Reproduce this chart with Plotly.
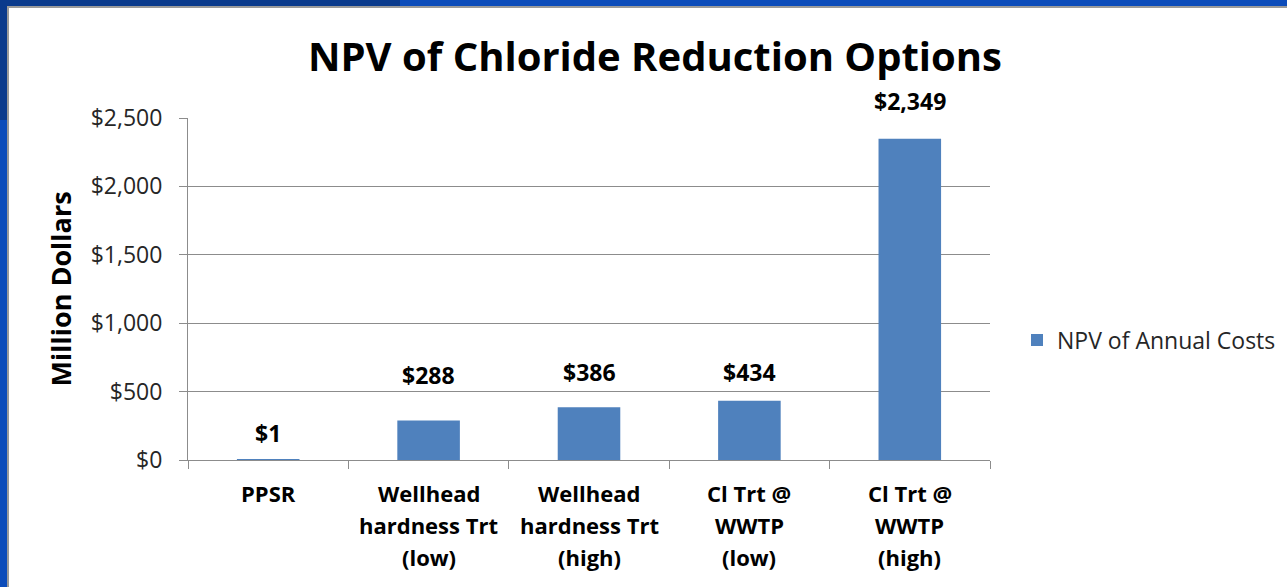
import plotly.graph_objects as go

# ── data ───────────────────────────────────────────────────────────
CATEGORIES = ["PPSR", "Wellhead hardness Trt (low)", "Wellhead hardness Trt (high)",
              "Cl Trt @ WWTP (low)", "Cl Trt @ WWTP (high)"]
CAT_LINES = [["PPSR"],
             ["Wellhead", "hardness Trt", "(low)"],
             ["Wellhead", "hardness Trt", "(high)"],
             ["Cl Trt @", "WWTP", "(low)"],
             ["Cl Trt @", "WWTP", "(high)"]]
NPV_COSTS = [1, 288, 386, 434, 2349]
VALUE_LABELS = ["$1", "$288", "$386", "$434", "$2,349"]
SERIES_NAME = "NPV of Annual Costs"

# styles
FONT = "'Open Sans', Lato, sans-serif"
BAR_COLOR = "#4f81bd"
GRID = "#8c8c8c"
LABEL_SHIFT = [27, 46, 35, 29, 38]   # Excel labels sit a bit above the bars

fig = go.Figure()
fig.add_trace(go.Bar(
    x=CATEGORIES, y=NPV_COSTS, name=SERIES_NAME,
    marker=dict(color=BAR_COLOR, line=dict(width=0)),
    showlegend=True,
))

annotations = []
for cat, v, lab, sh in zip(CATEGORIES, NPV_COSTS, VALUE_LABELS, LABEL_SHIFT):
    annotations.append(dict(
        x=cat, y=v, xref="x", yref="y", text=f"<b>{lab}</b>",
        showarrow=False, yshift=sh, font=dict(size=23, color="#000000", family=FONT),
    ))

# category labels, one line at a time for Excel-like line spacing
for cat, lines in zip(CATEGORIES, CAT_LINES):
    for i, ln in enumerate(lines):
        annotations.append(dict(
            x=cat, y=0, xref="x", yref="paper", text=f"<b>{ln}</b>",
            showarrow=False, yanchor="middle", yshift=-(33 + 32 * i),
            font=dict(size=22, color="#000000", family=FONT),
        ))

# y-axis title
annotations.append(dict(
    x=-0.159, y=0.5, xref="paper", yref="paper", text="<b>Million Dollars</b>",
    xanchor="center", yanchor="middle",
    textangle=-90, showarrow=False, font=dict(size=27, color="#000000", family=FONT),
))

# window frame (blue strip + grey edge, top and left)
L, T = 188, 118
W, H = 802, 342
def px(xp): return (xp - L) / W
def py(yp): return (T + H - yp) / H

shapes = [
    dict(type="rect", xref="paper", yref="paper", x0=px(0), x1=px(1287), y0=py(6), y1=py(0),
         fillcolor="#0c4cba", line=dict(width=0), layer="below"),
    dict(type="rect", xref="paper", yref="paper", x0=px(0), x1=px(400), y0=py(6), y1=py(0),
         fillcolor="#0a3a8c", line=dict(width=0), layer="below"),
    dict(type="rect", xref="paper", yref="paper", x0=px(0), x1=px(7), y0=py(587), y1=py(0),
         fillcolor="#0c4cba", line=dict(width=0), layer="below"),
    dict(type="rect", xref="paper", yref="paper", x0=px(0), x1=px(7), y0=py(120), y1=py(0),
         fillcolor="#0a3a8c", line=dict(width=0), layer="below"),
    dict(type="rect", xref="paper", yref="paper", x0=px(7), x1=px(1287), y0=py(8), y1=py(6),
         fillcolor="#9a9a9a", line=dict(width=0), layer="below"),
    dict(type="rect", xref="paper", yref="paper", x0=px(7), x1=px(9), y0=py(587), y1=py(6),
         fillcolor="#9a9a9a", line=dict(width=0), layer="below"),
]

fig.update_layout(
    width=1287, height=587,
    margin=dict(l=L, r=1287 - L - W, t=T, b=587 - T - H),
    paper_bgcolor="#ffffff", plot_bgcolor="#ffffff",
    font=dict(family=FONT, color="#262626"),
    title=dict(text="<b>NPV of Chloride Reduction Options</b>", x=655 / 1287, xanchor="center",
               y=1 - 57 / 587, yanchor="middle", font=dict(size=40, color="#000000", family=FONT)),
    bargap=0.61,
    showlegend=True,
    legend=dict(x=1017 / 1287, y=1 - 340 / 587, xref="container", yref="container",
                xanchor="left", yanchor="middle",
                font=dict(size=23, color="#262626", family=FONT),
                itemwidth=30, bgcolor="rgba(0,0,0,0)"),
    xaxis=dict(showticklabels=False, ticks="outside", tickson="boundaries", ticklen=8,
               tickcolor=GRID, showline=True, linecolor=GRID, linewidth=1,
               showgrid=False, fixedrange=True),
    yaxis=dict(range=[0, 2500], dtick=500, tickprefix="$", tickformat=",d",
               ticks="outside", ticklen=8, tickcolor=GRID, showline=True,
               linecolor=GRID, linewidth=1, gridcolor=GRID, gridwidth=1,
               zeroline=False, ticklabelstandoff=12,
               tickfont=dict(size=23, color="#262626", family=FONT)),
    annotations=annotations,
    shapes=shapes,
)

# the page's default 8px body margin would shift the chart off the window frame
fig.write_html("out.html", config={"displayModeBar": False},
               post_script="document.body.style.margin='0';")
